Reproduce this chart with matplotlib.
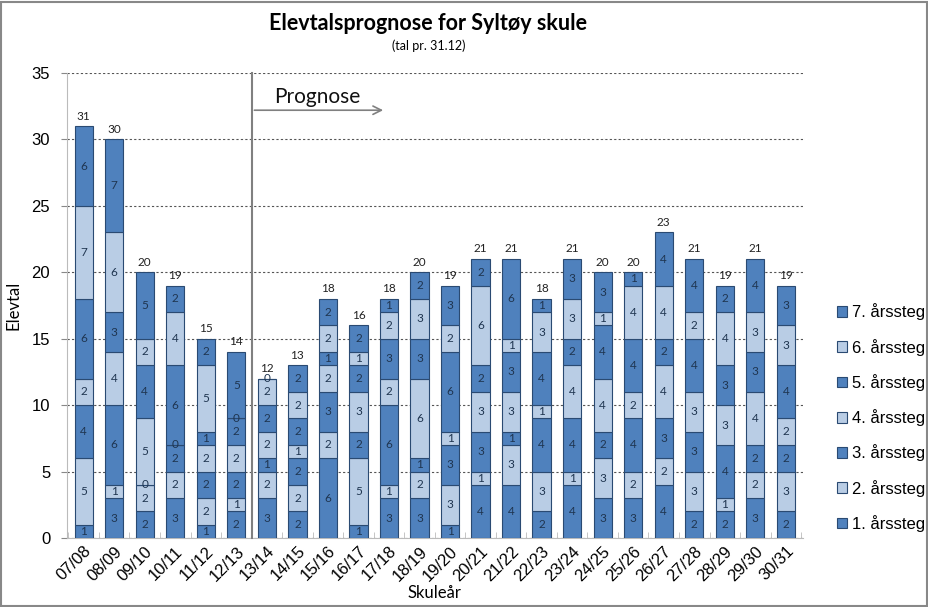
import numpy as np
import matplotlib.pyplot as plt
from matplotlib.patches import Rectangle

plt.rcParams['font.family'] = ['Liberation Sans', 'DejaVu Sans']

years = ["07/08", "08/09", "09/10", "10/11", "11/12", "12/13", "13/14", "14/15",
         "15/16", "16/17", "17/18", "18/19", "19/20", "20/21", "21/22", "22/23",
         "23/24", "24/25", "25/26", "26/27", "27/28", "28/29", "29/30", "30/31"]

steg1 = [1, 3, 2, 3, 1, 2, 3, 2, 6, 1, 3, 3, 1, 4, 4, 2, 4, 3, 3, 4, 2, 2, 3, 2]
steg2 = [5, 1, 2, 2, 2, 1, 2, 2, 2, 5, 1, 2, 3, 1, 3, 3, 1, 3, 2, 2, 3, 1, 2, 3]
steg3 = [4, 6, 0, 2, 2, 2, 1, 2, 3, 2, 6, 1, 3, 3, 1, 4, 4, 2, 4, 3, 3, 4, 2, 2]
steg4 = [2, 4, 5, 0, 2, 2, 2, 1, 2, 3, 2, 6, 1, 3, 3, 1, 4, 4, 2, 4, 3, 3, 4, 2]
steg5 = [6, 3, 4, 6, 1, 2, 2, 2, 1, 2, 3, 3, 6, 2, 3, 4, 2, 4, 4, 2, 4, 3, 3, 4]
steg6 = [7, 6, 2, 4, 5, 0, 2, 2, 2, 1, 2, 3, 2, 6, 1, 3, 3, 1, 4, 4, 2, 4, 3, 3]
steg7 = [6, 7, 5, 2, 2, 5, 0, 2, 2, 2, 1, 2, 3, 2, 6, 1, 3, 3, 1, 4, 4, 2, 4, 3]

series = [steg1, steg2, steg3, steg4, steg5, steg6, steg7]
names = ["1. årssteg", "2. årssteg", "3. årssteg", "4. årssteg",
         "5. årssteg", "6. årssteg", "7. årssteg"]

dark = "#4F81BD"
light = "#B9CDE5"
edge = "#2A4A72"
txt = "#1F3550"

fig = plt.figure(figsize=(9.29, 6.07), dpi=100)
ax = fig.add_axes([0.072, 0.1137, 0.792, 0.766])

x = np.arange(len(years))
bottom = np.zeros(len(years))
handles = []
for k, vals in enumerate(series):
    vals = np.array(vals)
    col = dark if k % 2 == 0 else light
    b = ax.bar(x, vals, 0.6, bottom=bottom, color=col, edgecolor=edge,
               linewidth=0.8, zorder=3, label=names[k])
    handles.append(b)
    for i, v in enumerate(vals):
        ax.text(x[i], bottom[i] + v / 2, str(v), ha="center", va="center",
                fontsize=8.5, color=txt, zorder=4, family="Lato")
    bottom += vals

for i, tot in enumerate(bottom):
    ax.text(x[i], tot + 0.35, str(int(tot)), ha="center", va="bottom",
            fontsize=8.5, color="#222222", zorder=4, family="Lato")

ax.set_xlim(-0.55, len(years) - 0.45)
ax.set_ylim(0, 35)
ax.set_yticks(range(0, 36, 5))
ax.yaxis.grid(True, linestyle=(0, (2, 2)), color="#555555", linewidth=0.8, zorder=0)
ax.set_axisbelow(True)
for s in ["top", "right"]:
    ax.spines[s].set_visible(False)
ax.spines["left"].set_color("#BBBBBB")
ax.spines["bottom"].set_color("#BBBBBB")
ax.tick_params(axis="y", length=4, color="#888888", labelsize=12, pad=8)
ax.set_xticks(x)
ax.set_xticklabels(years, rotation=45, ha="right", rotation_mode="anchor",
                   fontsize=12)
ax.tick_params(axis="x", length=0, pad=4)
ax.set_xticks(np.arange(-0.5, len(years), 1), minor=True)
ax.tick_params(axis="x", which="minor", length=4, color="#BBBBBB", direction="in")

ax.set_ylabel("Elevtal", fontsize=12, family="Lato")
ax.yaxis.set_label_coords(-0.062, 0.5)
ax.set_xlabel("Skuleår", fontsize=12, family="Lato", labelpad=1)

# prognose marker
ax.plot([5.5, 5.5], [0, 35], color="#808080", linewidth=1.5, zorder=5,
        clip_on=False)
ax.annotate("", xy=(9.9, 32.2), xytext=(5.5, 32.2),
            arrowprops=dict(arrowstyle="->", color="#808080", lw=1.2,
                            mutation_scale=15), zorder=5)
ax.text(6.25, 33.2, "Prognose", fontsize=15, family="Lato", color="#111111",
        va="center", ha="left")

fig.text(0.461, 0.962, "Elevtalsprognose for Syltøy skule", ha="center",
         va="center", fontsize=15.5, fontweight="bold", family="Lato")
fig.text(0.461, 0.925, "(tal pr. 31.12)", ha="center", va="center",
         fontsize=9, family="Lato")

leg = fig.legend(handles[::-1], names[::-1], loc="center left",
                 bbox_to_anchor=(0.885, 0.312), frameon=False, fontsize=12,
                 handlelength=0.6, handleheight=0.6, handletextpad=0.3,
                 labelspacing=1.1)

fig.patches.append(Rectangle((0.001, 0.002), 0.997, 0.995, transform=fig.transFigure,
                             fill=False, edgecolor="#888888", linewidth=1.5))

fig.savefig("out.png", dpi=100)
